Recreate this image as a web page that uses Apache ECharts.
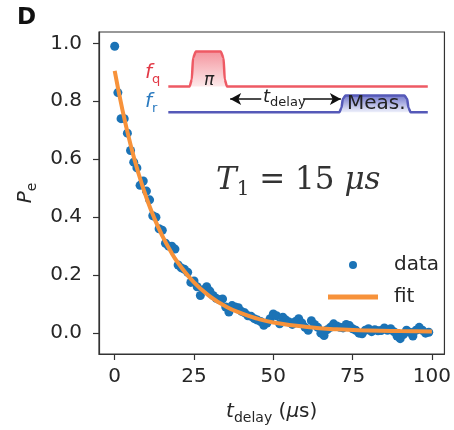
<!DOCTYPE html>
<html>
<head>
<meta charset="utf-8">
<script src="https://cdn.jsdelivr.net/npm/echarts@6/dist/echarts.min.js"></script>
<style>html,body{margin:0;padding:0;background:#fff;}#c{width:454px;height:430px;}</style>
</head>
<body>
<div id="c"></div>
<script>
// ---- data ----
const tDelay = [0,1,2,3,4,5,6,7,8,9,10,11,12,13,14,15,16,17,18,19,20,21,22,23,24,25,26,27,28,29,30,31,32,33,34,35,36,37,38,39,40,41,42,43,44,45,46,47,48,49,50,51,52,53,54,55,56,57,58,59,60,61,62,63,64,65,66,67,68,69,70,71,72,73,74,75,76,77,78,79,80,81,82,83,84,85,86,87,88,89,90,91,92,93,94,95,96,97,98,99];
const pe = [0.99,0.83,0.74,0.74,0.69,0.63,0.59,0.57,0.51,0.525,0.49,0.46,0.405,0.40,0.36,0.355,0.31,0.30,0.30,0.29,0.235,0.225,0.22,0.21,0.175,0.18,0.16,0.13,0.15,0.16,0.145,0.13,0.12,0.115,0.118,0.09,0.073,0.095,0.09,0.088,0.075,0.07,0.06,0.058,0.05,0.045,0.04,0.027,0.035,0.05,0.066,0.06,0.032,0.055,0.045,0.038,0.03,0.04,0.05,0.035,0.02,0.01,0.043,0.03,0.02,0.0,-0.008,0.012,0.02,0.032,0.025,0.02,0.018,0.03,0.026,0.015,0.01,0.0,-0.002,0.01,0.015,0.005,0.012,0.008,0.009,0.018,0.01,0.015,0.005,-0.01,-0.019,-0.005,0.01,0.003,-0.01,0.01,0.02,0.01,0.0,0.003];
const fitT = [0,2.5,5,7.5,10,12.5,15,17.5,20,25,30,35,40,45,50,60,70,80,90,100];
const fitV = [0.905,0.767,0.650,0.551,0.467,0.396,0.336,0.285,0.242,0.175,0.127,0.092,0.068,0.050,0.037,0.022,0.013,0.009,0.007,0.006];
const xTicks = [0,25,50,75,100];
const yTicks = [0,0.2,0.4,0.6,0.8,1.0];
// pulse-sequence schematic (inset), in axis units
const qBase = 0.851;
const qPulseT = [16.9,23.6,24.3,24.7,25.6,33.4,34.3,34.7,35.4,98.7];
const qPulseV = [0.851,0.851,0.875,0.95,0.972,0.972,0.95,0.875,0.851,0.851];
const rBase = 0.762;
const rPulseT = [16.9,70.8,71.5,71.9,72.8,91.3,92.2,92.6,93.3,98.7];
const rPulseV = [0.762,0.762,0.778,0.808,0.82,0.82,0.808,0.778,0.762,0.762];
const arrowY = 0.808;
const arrowLeft = [46.2, 36.4];
const arrowRight = [59.4, 71.3];

const zip = (a, b) => a.map((v, i) => [v, b[i]]);
const FONT = 'DejaVu Sans';
const chart = echarts.init(document.getElementById('c'), null, {renderer: 'canvas'});
const axisCommon = {
  axisLine: {show: true, onZero: false, lineStyle: {color: '#333', width: 1.2}},
  splitLine: {show: false},
};
chart.setOption({
  animation: false,
  backgroundColor: '#fff',
  grid: {left: 99, right: 7, top: 32, bottom: 73, show: true, borderColor: '#333', borderWidth: 1.2, backgroundColor: 'transparent'},
  xAxis: Object.assign({
    type: 'value', min: -4.95, max: 103.95,
    axisTick: {show: true, length: 6, customValues: xTicks, lineStyle: {color: '#333', width: 1.2}},
    axisLabel: {customValues: xTicks, margin: 13, fontSize: 20, color: '#262626', fontFamily: FONT},
    name: '{t|t}{s|delay}{n| (}{m|μ}{n|s)}', nameLocation: 'middle', nameGap: 44,
    nameTextStyle: {rich: {
      t: {fontSize: 20, fontStyle: 'italic', fontFamily: FONT, color: '#262626', lineHeight: 24, verticalAlign: 'bottom'},
      s: {fontSize: 14, fontFamily: FONT, color: '#262626', lineHeight: 14, verticalAlign: 'bottom', padding: [0,0,-3,0]},
      n: {fontSize: 20, fontFamily: FONT, color: '#262626', lineHeight: 24, verticalAlign: 'bottom'},
      m: {fontSize: 20, fontStyle: 'italic', fontFamily: FONT, color: '#262626', lineHeight: 24, verticalAlign: 'bottom'}
    }}
  }, axisCommon),
  yAxis: Object.assign({
    type: 'value', min: -0.072, max: 1.039,
    axisTick: {show: true, length: 6, customValues: yTicks, lineStyle: {color: '#333', width: 1.2}},
    axisLabel: {customValues: yTicks, margin: 17, fontSize: 20, color: '#262626', fontFamily: FONT, formatter: v => v.toFixed(1)},
    name: '{t|P}{s|e}', nameLocation: 'middle', nameGap: 58, nameRotate: 90,
    nameTextStyle: {rich: {
      t: {fontSize: 20, fontStyle: 'italic', fontFamily: FONT, color: '#262626', lineHeight: 24, verticalAlign: 'bottom'},
      s: {fontSize: 14, fontFamily: FONT, color: '#262626', lineHeight: 14, verticalAlign: 'bottom', padding: [0,0,-3,0]}
    }}
  }, axisCommon),
  legend: {
    data: [{name: 'data', icon: 'circle'}, {name: 'fit', icon: 'path://M0,0L50,0L50,5L0,5Z'}],
    orient: 'vertical', left: 323, top: 250,
    itemWidth: 50, itemHeight: 8, itemGap: 12,
    textStyle: {fontSize: 20, color: '#262626', fontFamily: FONT, padding: [0,0,0,11]}
  },
  series: [
    {
      name: 'qpulse', type: 'line', data: zip(qPulseT, qPulseV), showSymbol: false, symbol: 'none',
      smooth: 0.25, smoothMonotone: 'x', z: 1, silent: true,
      lineStyle: {color: '#ee5a64', width: 2.5},
      areaStyle: {origin: qBase, opacity: 1, color: new echarts.graphic.LinearGradient(0,0,0,1,[{offset:0,color:'#f4959e'},{offset:1,color:'#fde9ea'}])}
    },
    {
      name: 'rpulse', type: 'line', data: zip(rPulseT, rPulseV), showSymbol: false, symbol: 'none',
      smooth: 0.25, smoothMonotone: 'x', z: 1, silent: true,
      lineStyle: {color: '#5559b8', width: 2.5},
      areaStyle: {origin: rBase, opacity: 1, color: new echarts.graphic.LinearGradient(0,0,0,1,[{offset:0,color:'#7479cc'},{offset:1,color:'#eef0fb'}])},
      markLine: {
        silent: true, symbol: ['none', 'arrow'], symbolSize: [9, 11],
        label: {show: false},
        lineStyle: {color: '#111', width: 1.5, type: 'solid'},
        emphasis: {disabled: true},
        data: [
          [{coord: [arrowLeft[0], arrowY]}, {coord: [arrowLeft[1], arrowY]}],
          [{coord: [arrowRight[0], arrowY]}, {coord: [arrowRight[1], arrowY]}]
        ]
      }
    },
    {
      name: 'data', type: 'scatter', data: zip(tDelay, pe), symbol: 'circle', symbolSize: 9, z: 3,
      itemStyle: {color: '#1b73b6', opacity: 1}
    },
    {
      name: 'fit', type: 'line', data: zip(fitT, fitV), smooth: true, showSymbol: false, symbol: 'none', z: 4,
      lineStyle: {color: '#f7923a', width: 4}, itemStyle: {color: '#f7923a'}
    }
  ],
  graphic: [
    {type: 'text', z: 50, left: 17, top: 7, style: {text: 'D', font: 'bold 23px "DejaVu Sans"', fill: '#111'}},
    {type: 'text', z: 50, left: 145, top: 63, style: {text: '{f|f}{s|q}', rich: {
      f: {fontSize: 20, fontStyle: 'italic', fontFamily: FONT, fill: '#e23a47', lineHeight: 22, verticalAlign: 'bottom'},
      s: {fontSize: 13, fontFamily: FONT, fill: '#e23a47', lineHeight: 13, verticalAlign: 'bottom', padding: [0,0,-3,0]}}}},
    {type: 'text', z: 50, left: 145, top: 92, style: {text: '{f|f}{s|r}', rich: {
      f: {fontSize: 20, fontStyle: 'italic', fontFamily: FONT, fill: '#2b7bc0', lineHeight: 22, verticalAlign: 'bottom'},
      s: {fontSize: 13, fontFamily: FONT, fill: '#2b7bc0', lineHeight: 13, verticalAlign: 'bottom', padding: [0,0,-3,0]}}}},
    {type: 'text', z: 50, left: 204, top: 72, style: {text: 'π', font: 'italic 17px "DejaVu Sans"', fill: '#222'}},
    {type: 'text', z: 50, left: 263, top: 88, style: {text: '{t|t}{s|delay}', rich: {
      t: {fontSize: 18, fontStyle: 'italic', fontFamily: FONT, fill: '#222', lineHeight: 20, verticalAlign: 'bottom'},
      s: {fontSize: 13, fontFamily: FONT, fill: '#222', lineHeight: 13, verticalAlign: 'bottom', padding: [0,0,-3,0]}}}},
    {type: 'text', z: 50, left: 347, top: 94, style: {text: 'Meas.', font: '20px "DejaVu Sans"', fill: '#222'}},
    {type: 'text', z: 50, left: 216, top: 165, style: {text: '{t|T}{s|1}{n| = 15 }{m|μs}', rich: {
      t: {fontSize: 31, fontStyle: 'italic', fontFamily: 'DejaVu Serif', fill: '#333', lineHeight: 35, verticalAlign: 'bottom'},
      s: {fontSize: 20, fontFamily: 'DejaVu Serif', fill: '#333', lineHeight: 20, verticalAlign: 'bottom', padding: [0,0,-4,0]},
      n: {fontSize: 31, fontFamily: 'DejaVu Serif', fill: '#333', lineHeight: 35, verticalAlign: 'bottom'},
      m: {fontSize: 31, fontStyle: 'italic', fontFamily: 'DejaVu Serif', fill: '#333', lineHeight: 35, verticalAlign: 'bottom'}}}}
  ]
});
</script>
</body>
</html>
